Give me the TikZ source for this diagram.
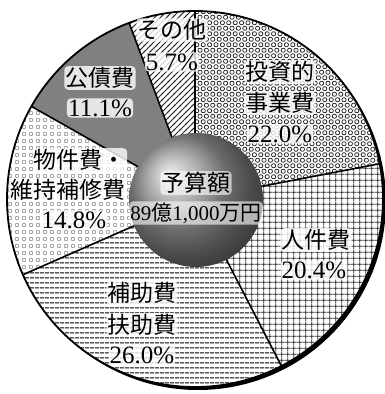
\documentclass[tikz,border=0pt]{standalone}
\usepackage{fontspec}
\setmainfont{Liberation Serif}
\newfontfamily\jp{Noto Sans CJK JP}
\usepackage{tikz}
\usetikzlibrary{patterns}

\pgfdeclarepatternformonly{rings}{\pgfpoint{-1pt}{-1pt}}{\pgfpoint{7.4pt}{12pt}}{\pgfpoint{6.4pt}{11pt}}{%
  \pgfsetlinewidth{0.7pt}%
  \pgfpathcircle{\pgfpoint{1.6pt}{2.75pt}}{2.1pt}%
  \pgfpathcircle{\pgfpoint{4.8pt}{8.25pt}}{2.1pt}%
  \pgfusepath{stroke}}
\pgfdeclarepatternformonly{mesh}{\pgfpointorigin}{\pgfpoint{6.3pt}{6.3pt}}{\pgfpoint{6.3pt}{6.3pt}}{%
  \pgfsetlinewidth{0.9pt}%
  \pgfpathmoveto{\pgfpoint{0pt}{3.15pt}}\pgfpathlineto{\pgfpoint{6.3pt}{3.15pt}}%
  \pgfpathmoveto{\pgfpoint{3.15pt}{0pt}}\pgfpathlineto{\pgfpoint{3.15pt}{6.3pt}}%
  \pgfusepath{stroke}}
\pgfdeclarepatternformonly{rules}{\pgfpointorigin}{\pgfpoint{5pt}{5pt}}{\pgfpoint{5pt}{5pt}}{%
  \pgfsetlinewidth{1.1pt}%
  \pgfpathmoveto{\pgfpoint{0pt}{2.5pt}}\pgfpathlineto{\pgfpoint{5pt}{2.5pt}}%
  \pgfusepath{stroke}}
\pgfdeclarepatternformonly{boxes}{\pgfpointorigin}{\pgfpoint{6.5pt}{6.5pt}}{\pgfpoint{6.5pt}{6.5pt}}{%
  \pgfsetlinewidth{0.5pt}%
  \pgfpathrectangle{\pgfpoint{1.75pt}{1.75pt}}{\pgfpoint{3pt}{3pt}}%
  \pgfusepath{stroke}}
\pgfdeclarepatternformonly{slant}{\pgfpoint{-1pt}{-1pt}}{\pgfpoint{7pt}{7pt}}{\pgfpoint{6pt}{6pt}}{%
  \pgfsetlinewidth{0.8pt}%
  \pgfpathmoveto{\pgfpoint{-1pt}{-1pt}}\pgfpathlineto{\pgfpoint{7pt}{7pt}}%
  \pgfusepath{stroke}}

\begin{document}
\begin{tikzpicture}[x=1pt, y=1pt,
  pinv/.style={pattern=rings, pattern color=black!90},
  pstaff/.style={pattern=mesh, pattern color=black!85},
  paid/.style={pattern=rules, pattern color=black},
  pgoods/.style={pattern=boxes, pattern color=black!55},
  pdebt/.style={fill=black!50},
  pother/.style={pattern=slant, pattern color=black!85},
  lbl/.style={inner sep=1.2pt, rounded corners=4pt, fill=white, fill opacity=0.8, text opacity=1, font=\fontsize{25}{31}\selectfont},
  jlbl/.style={lbl, font=\fontsize{23}{31}\selectfont\jp}]
  \useasboundingbox (0, 0) rectangle (385, 394);
  \begin{scope}[shift={(195, 195)}]
    \fill (3, -3) circle (188);
    \fill[white] (0, 0) circle (188);
    \foreach \a/\b/\s in {90/10.8/pinv, 10.8/-62.64/pstaff, -62.64/-156.24/paid, -156.24/-209.52/pgoods, -209.52/-249.48/pdebt, -249.48/-270/pother}
    {
    \path[\s] (0, 0) -- (\a:188) arc [start angle = \a, end angle = \b, radius = 188] -- cycle;
    }
    \foreach \a in {90, 10.8, -62.64, -156.24, -209.52, -249.48}
    {
    \draw[line width = 1.6pt] (0, 0) -- (\a:188);
    }
    \draw[line width = 1.8pt] (0, 0) circle (188);
  \end{scope}
  \shade[ball color = black!40] (196, 194) circle (67);
  \node[jlbl] at (172, 364) (sonota) {その他};
  \node[lbl] at (172, 332) (sonotap) {5.7\%};
  \node[jlbl] at (100, 316) (kousai) {公債費};
  \node[lbl] at (100, 286) (kousaip) {11.1\%};
  \node[jlbl] at (280, 322) (tousi) {投資的};
  \node[jlbl] at (280, 291) (jigyou) {事業費};
  \node[lbl] at (280, 260) (tousip) {22.0\%};
  \node[jlbl] at (80, 234) (bukken) {物件費・};
  \node[jlbl] at (68, 204) (iji) {維持補修費};
  \node[lbl] at (74, 174) (bukkenp) {14.8\%};
  \node[jlbl, fill opacity = 0.6] at (196, 211) (yosan) {予算額};
  \node[lbl, fill opacity = 0.6, font = \fontsize{21}{30}\selectfont] at (196, 181) (gaku) {89{\jp 億}1,000{\jp 万円}};
  \node[jlbl] at (316, 154) (jinken) {人件費};
  \node[lbl] at (314, 124) (jinkenp) {20.4\%};
  \node[jlbl] at (142, 101) (hojo) {補助費};
  \node[jlbl] at (142, 69) (fujo) {扶助費};
  \node[lbl] at (142, 39) (hojop) {26.0\%};
\end{tikzpicture}
\end{document}
